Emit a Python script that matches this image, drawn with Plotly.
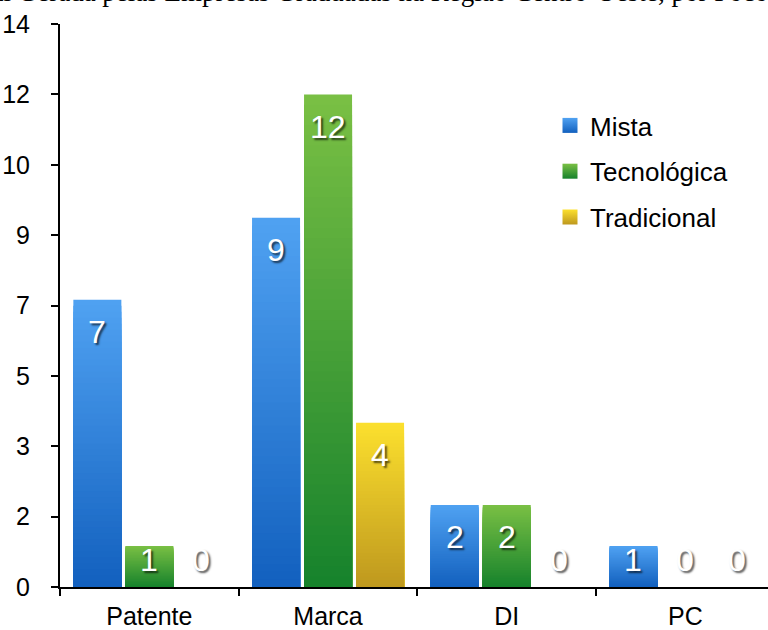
import plotly.graph_objects as go

# ---- data ----
categories = ["Patente", "Marca", "DI", "PC"]
series_names = ["Mista", "Tecnológica", "Tradicional"]
mista = [7, 9, 2, 1]
tecnologica = [1, 12, 2, 0]
tradicional = [0, 4, 0, 0]
y_tick_labels = ["0", "2", "3", "5", "7", "9", "10", "12", "14"]
title_text = "Intelectual Gerada pelas Empresas Graduadas na Região Centro-Oeste, por Foco"

series_values = [mista, tecnologica, tradicional]

# ---- styling ----
W, H = 768, 630
M_L, M_R, M_T, M_B = 60, 0, 24, 43
Y_MAX = 13.72
X_RANGE = [-0.5, 3.462]
STEP = 0.291          # distance between bars of one group (category units)
BAR_W = 0.2686        # bar width (category units)
N_SLICES = 48         # bands used to shade each bar top-to-bottom
SANS = "Liberation Sans, Arial, sans-serif"
SERIF = "Liberation Serif, Times New Roman, serif"

# (top colour, bottom colour) of each series' vertical gradient
gradients = [
    ((80, 162, 242), (18, 96, 190)),
    ((122, 192, 68), (22, 130, 44)),
    ((252, 224, 46), (190, 152, 30)),
]

plot_h = H - M_T - M_B
px_per_unit = plot_h / Y_MAX


def mix(bottom, top, t):
    r, g, b = (round(bottom[j] + (top[j] - bottom[j]) * t) for j in range(3))
    return f"rgb({r},{g},{b})"


fig = go.Figure()

offsets = [-STEP, 0.0, STEP]
for i, (name, vals) in enumerate(zip(series_names, series_values)):
    top, bottom = gradients[i]
    # overlapping bars, each shorter and darker than the previous one
    for k in range(N_SLICES):
        frac = (N_SLICES - k) / N_SLICES
        t = (N_SLICES - k - 0.5) / N_SLICES
        fig.add_trace(go.Bar(
            x=categories,
            y=[v * frac for v in vals],
            offset=offsets[i] - BAR_W / 2,
            width=BAR_W,
            marker=dict(color=mix(bottom, top, t), line=dict(width=0)),
            showlegend=False,
            hoverinfo="skip",
        ))
    # legend entry
    fig.add_trace(go.Scatter(
        x=[None], y=[None], mode="markers", name=name,
        legendgroup=name,
        marker=dict(symbol="square", size=15,
                    color=mix(bottom, top, 1.0),
                    gradient=dict(type="vertical", color=mix(bottom, top, 0.0)),
                    line=dict(width=0)),
    ))

# value labels inside the top of each bar
annotations = []
for i, vals in enumerate(series_values):
    for c, v in enumerate(vals):
        if v * px_per_unit >= 59:
            y, shift = v, -32
        else:
            y, shift = 0, 27
        annotations.append(dict(
            x=c + offsets[i], y=y, xref="x", yref="y",
            text=str(v), showarrow=False,
            xanchor="center", yanchor="middle", yshift=shift,
            font=dict(family=SANS, size=32, color="white",
                      shadow="2px 2px 2px rgba(0,0,0,0.65)"),
        ))

# title line above the plot
annotations.append(dict(
    x=1 + 2 / (W - M_L - M_R), y=1, xref="paper", yref="paper",
    text=title_text, showarrow=False,
    xanchor="right", yanchor="bottom", yshift=15,
    font=dict(family=SERIF, size=27, color="black"),
))

fig.update_layout(
    width=W, height=H,
    margin=dict(l=M_L, r=M_R, t=M_T, b=M_B, pad=0),
    paper_bgcolor="white", plot_bgcolor="white",
    barmode="overlay",
    showlegend=True,
    legend=dict(
        x=(550 - M_L) / (W - M_L - M_R), y=1 - (102 - M_T) / plot_h,
        xanchor="left", yanchor="top",
        font=dict(family=SANS, size=26, color="black"),
        tracegroupgap=9, bgcolor="rgba(0,0,0,0)",
        itemclick=False,
    ),
    annotations=annotations,
    xaxis=dict(
        type="category", categoryorder="array", categoryarray=categories,
        range=X_RANGE, tickson="boundaries", automargin=False,
        showline=True, linecolor="black", linewidth=2,
        ticks="outside", ticklen=7, tickwidth=2, tickcolor="black",
        showgrid=False, zeroline=False,
        tickfont=dict(family=SANS, size=25, color="black"),
        ticklabelstandoff=6,
    ),
    yaxis=dict(
        range=[0, Y_MAX], automargin=False,
        tickvals=[Y_MAX * j / 8 for j in range(9)],
        ticktext=y_tick_labels,
        showline=True, linecolor="black", linewidth=2,
        ticks="outside", ticklen=7, tickwidth=2, tickcolor="black",
        showgrid=False, zeroline=False,
        tickfont=dict(family=SANS, size=25, color="black"),
        ticklabelstandoff=16,
    ),
)

fig.write_html("out.html")
